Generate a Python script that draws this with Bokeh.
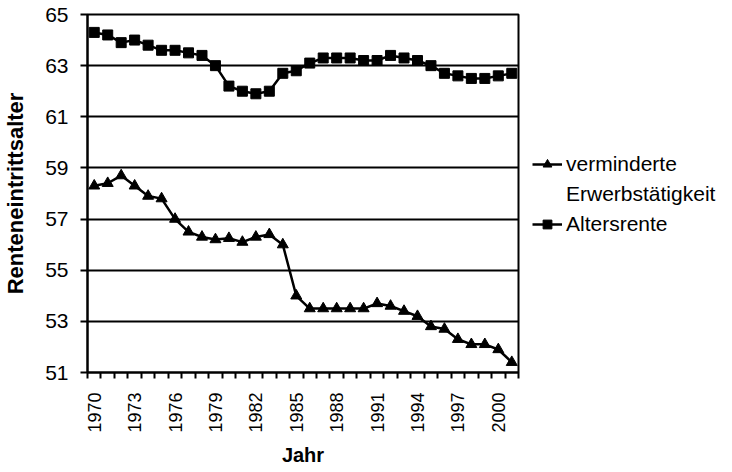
import math
from bokeh.plotting import figure
from bokeh.models import FixedTicker, Legend, LegendItem, Range1d
from bokeh.embed import file_html
from bokeh.resources import INLINE

years = list(range(1970, 2002))
vermindert = [58.3, 58.4, 58.7, 58.3, 57.9, 57.8, 57.0, 56.5, 56.3, 56.2, 56.25, 56.1,
              56.3, 56.4, 56.0, 54.0, 53.5, 53.5, 53.5, 53.5, 53.5, 53.7, 53.6, 53.4,
              53.2, 52.8, 52.7, 52.3, 52.1, 52.1, 51.9, 51.4]
altersrente = [64.3, 64.2, 63.9, 64.0, 63.8, 63.6, 63.6, 63.5, 63.4, 63.0, 62.2, 62.0,
               61.9, 62.0, 62.7, 62.8, 63.1, 63.3, 63.3, 63.3, 63.2, 63.2, 63.4, 63.3,
               63.2, 63.0, 62.7, 62.6, 62.5, 62.5, 62.6, 62.7]
label_years = list(range(1970, 2001, 3))
y_ticks = [51, 53, 55, 57, 59, 61, 63, 65]
series_names = ["verminderte", "Erwerbstätigkeit", "Altersrente"]

FONT = "Liberation Sans"

p = figure(frame_width=431, frame_height=358, output_backend="svg", toolbar_location=None,
           x_range=Range1d(years[0] - 0.5, years[-1] + 0.5), y_range=Range1d(51, 65),
           min_border_left=83, min_border_top=14, min_border_bottom=80, min_border_right=210,
           background_fill_color="white", border_fill_color="white")

p.outline_line_color = "black"
p.outline_line_width = 2
p.xgrid.grid_line_color = None
p.ygrid.grid_line_color = "black"
p.ygrid.grid_line_width = 2

xt = FixedTicker(ticks=label_years, minor_ticks=[y - 0.5 for y in years] + [years[-1] + 0.5])
p.xaxis.ticker = xt
p.xaxis.major_label_orientation = math.pi / 2
p.xaxis.major_tick_line_color = None
p.xaxis.major_tick_out = 0
p.xaxis.major_tick_in = 0
p.xaxis.minor_tick_out = 6
p.xaxis.minor_tick_in = 0
p.xaxis.minor_tick_line_color = "black"
p.xaxis.minor_tick_line_width = 2
p.xaxis.major_label_standoff = 14
p.xaxis.axis_label = "Jahr"

p.yaxis.ticker = FixedTicker(ticks=y_ticks, minor_ticks=[])
p.yaxis.major_tick_out = 7
p.yaxis.major_tick_in = 0
p.yaxis.major_tick_line_width = 2
p.yaxis.major_label_standoff = 12
p.yaxis.axis_label = "Renteneintrittsalter"

for ax in (p.xaxis, p.yaxis):
    ax.axis_line_color = "black"
    ax.axis_line_width = 2
    ax.major_label_text_font = FONT
    ax.major_label_text_color = "black"
    ax.axis_label_text_font = FONT
    ax.axis_label_text_font_style = "bold"
    ax.axis_label_text_color = "black"
p.xaxis.major_label_text_font_size = "18px"
p.yaxis.major_label_text_font_size = "21px"
p.xaxis.axis_label_text_font_size = "20px"
p.yaxis.axis_label_text_font_size = "22px"
p.xaxis.axis_label_standoff = 8
p.yaxis.axis_label_standoff = 14

l1 = p.line(years, vermindert, line_color="black", line_width=2.5)
m1 = p.scatter(years, vermindert, marker="triangle", size=11, fill_color="black", line_color="black")
l2 = p.line(years, altersrente, line_color="black", line_width=2.5)
m2 = p.scatter(years, altersrente, marker="square", size=10, fill_color="black", line_color="black")

legend = Legend(items=[LegendItem(label=series_names[0], renderers=[l1, m1]),
                       LegendItem(label=series_names[1], renderers=[]),
                       LegendItem(label=series_names[2], renderers=[l2, m2])],
                location=(14, 136), border_line_color=None, background_fill_alpha=0,
                label_text_font=FONT, label_text_font_size="21px", label_text_color="black",
                glyph_width=30, glyph_height=22, label_height=22,
                spacing=6, padding=0, margin=0, label_standoff=4)
p.add_layout(legend, "right")

open("out.html", "w").write(file_html(p, INLINE))
